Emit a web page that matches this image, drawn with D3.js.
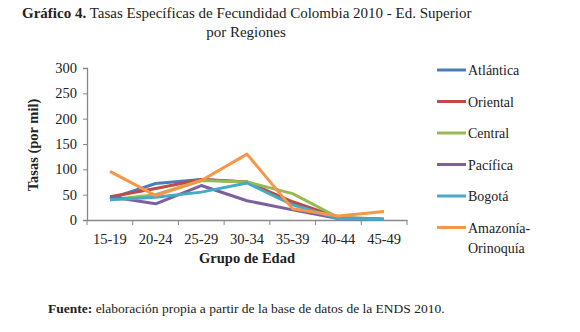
<!DOCTYPE html>
<html>
<head>
<meta charset="utf-8">
<title>Tasas Específicas de Fecundidad</title>
<script src="https://cdn.jsdelivr.net/npm/d3@7"></script>
<style>
  body { margin: 0; background: #fff; }
  text { font-family: "Liberation Serif", "DejaVu Serif", serif; fill: #222; }
</style>
</head>
<body>
<svg id="svg"></svg>
<script>
var WIDTH = 580, HEIGHT = 332;

// data
var grupos = ["15-19", "20-24", "25-29", "30-34", "35-39", "40-44", "45-49"];
var regiones = ["Atlántica", "Oriental", "Central", "Pacífica", "Bogotá", "Amazonía-Orinoquía"];
var colores = ["#4a7ebb", "#be4b48", "#98b954", "#7d60a0", "#46aac5", "#f79646"];
var atlantica = [42, 72, 80, 75, 34, 3, 1];
var oriental  = [46, 62, 80, 75, 36, 5, 2];
var central   = [40, 50, 78, 75, 52, 5, 1];
var pacifica  = [46, 32, 68, 38, 20, 3, 1];
var bogota    = [40, 45, 55, 73, 30, 3, 1];
var amazonia  = [96, 48, 78, 130, 22, 8, 17];
var series = [atlantica, oriental, central, pacifica, bogota, amazonia];
var yTicks = [0, 50, 100, 150, 200, 250, 300];

var svg = d3.select("#svg").attr("width", WIDTH).attr("height", HEIGHT);

var x = d3.scalePoint().domain(grupos).range([110, 384]);
var xBand = d3.scaleBand().domain(grupos).range([87, 407]);
var y = d3.scaleLinear().domain([0, 300]).range([220, 68]);

// title
svg.append("text").attr("x", 22).attr("y", 18).attr("font-size", "15px")
   .call(function(t){
       t.append("tspan").attr("font-weight", "bold").text("Gráfico 4.");
       t.append("tspan").text(" Tasas Específicas de Fecundidad Colombia 2010 -  Ed. Superior");
   });
svg.append("text").attr("x", 246).attr("y", 37).attr("font-size", "15px")
   .attr("text-anchor", "middle").text("por Regiones");

// axes
var yAxis = svg.append("g").attr("transform", "translate(87,0)")
   .call(d3.axisLeft(y).tickValues(yTicks).tickSize(4).tickPadding(6));
var xAxis = svg.append("g").attr("transform", "translate(0,220)")
   .call(d3.axisBottom(xBand).tickSize(0).tickPadding(14));
xAxis.selectAll(".tick").append("line").attr("stroke", "#888")
   .attr("x1", xBand.bandwidth()/2).attr("x2", xBand.bandwidth()/2).attr("y2", 5);
svg.append("line").attr("x1", 87).attr("x2", 87).attr("y1", 220).attr("y2", 225).attr("stroke", "#888");
[yAxis, xAxis].forEach(function(a){
    a.select(".domain").attr("stroke", "#888").attr("stroke-width", 1.3);
    a.selectAll(".tick line").attr("stroke", "#888");
    a.selectAll("text").attr("font-size", "14.5px").attr("fill", "#222")
     .attr("font-family", "'Liberation Serif', serif");
});

svg.append("text").attr("transform", "translate(38,145) rotate(-90)")
   .attr("text-anchor", "middle").attr("font-size", "14.5px").attr("font-weight", "bold")
   .text("Tasas (por mil)");
svg.append("text").attr("x", 247).attr("y", 263).attr("text-anchor", "middle")
   .attr("font-size", "14.5px").attr("font-weight", "bold").text("Grupo de Edad");

// lines
var line = d3.line().x(function(d, i){ return x(grupos[i]); }).y(function(d){ return y(d); });
svg.selectAll("path.serie").data(series).enter().append("path")
   .attr("class", "serie").attr("d", line).attr("fill", "none")
   .attr("stroke", function(d, i){ return colores[i]; })
   .attr("stroke-width", 3).attr("stroke-linejoin", "round");

// legend
var leg = svg.selectAll("g.leg").data(regiones).enter().append("g")
   .attr("class", "leg")
   .attr("transform", function(d, i){ return "translate(437," + (70 + i * 31.5) + ")"; });
leg.append("line").attr("x1", 0).attr("x2", 29)
   .attr("stroke", function(d, i){ return colores[i]; }).attr("stroke-width", 3);
leg.append("text").attr("x", 31).attr("y", 5).attr("font-size", "14px")
   .each(function(d){
       var parts = d.split("-");
       var t = d3.select(this);
       if (parts.length > 1) {
           t.append("tspan").attr("x", 31).text(parts[0] + "-");
           t.append("tspan").attr("x", 31).attr("dy", 20).text(parts[1]);
       } else {
           t.text(d);
       }
   });

// source
svg.append("text").attr("x", 48).attr("y", 313).attr("font-size", "13.5px")
   .call(function(t){
       t.append("tspan").attr("font-weight", "bold").text("Fuente:");
       t.append("tspan").text(" elaboración propia a partir de la base de datos de la ENDS 2010.");
   });
</script>
</body>
</html>
